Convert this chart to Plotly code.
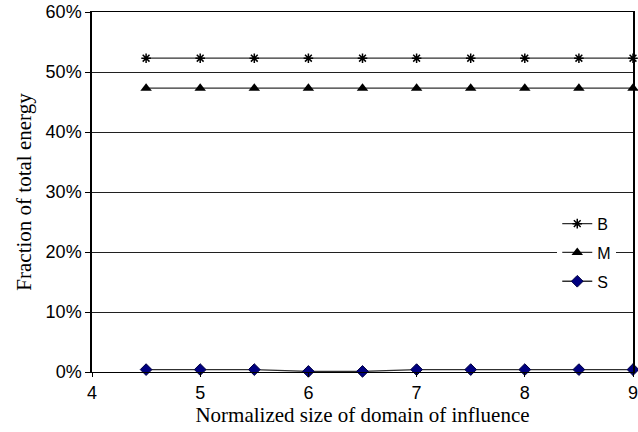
import plotly.graph_objects as go

x_vals = [4.5, 5, 5.5, 6, 6.5, 7, 7.5, 8, 8.5, 9]
b_vals = [0.523, 0.523, 0.523, 0.523, 0.523, 0.523, 0.523, 0.523, 0.523, 0.523]
m_vals = [0.473, 0.473, 0.473, 0.473, 0.473, 0.473, 0.473, 0.473, 0.473, 0.473]
s_vals = [0.004, 0.004, 0.004, 0.001, 0.001, 0.004, 0.004, 0.004, 0.004, 0.004]
y_ticks = [0, 0.1, 0.2, 0.3, 0.4, 0.5, 0.6]
x_ticks = [4, 5, 6, 7, 8, 9]

line_col = "#303030"
fig = go.Figure()
fig.add_trace(go.Scatter(x=x_vals, y=b_vals, name="B", mode="lines+markers", legendgroup="b",
                         line=dict(color=line_col, width=1.3),
                         marker=dict(symbol="asterisk-open", size=8, color="black",
                                     line=dict(color="black", width=1.5)),
                         cliponaxis=False))
fig.add_trace(go.Scatter(x=x_vals, y=m_vals, name="M", mode="lines+markers", legendgroup="m",
                         line=dict(color=line_col, width=1.3),
                         marker=dict(symbol="triangle-up", size=10, color="black"),
                         cliponaxis=False))
fig.add_trace(go.Scatter(x=x_vals, y=s_vals, name="S", mode="lines+markers", legendgroup="s",
                         line=dict(color=line_col, width=1.3),
                         marker=dict(symbol="diamond", size=9, color="#000080",
                                     line=dict(color="#000040", width=1)),
                         cliponaxis=False))

fig.update_layout(
    width=638, height=432,
    margin=dict(l=92, r=5, t=12, b=60),
    paper_bgcolor="white", plot_bgcolor="white",
    showlegend=True,
    legend=dict(x=0.86, y=0.459, xanchor="left", yanchor="top",
                bgcolor="white", borderwidth=0, traceorder="grouped",
                font=dict(family="Liberation Sans, Arial", size=16, color="black"),
                tracegroupgap=5, itemwidth=30),
    font=dict(family="Liberation Sans, Arial", size=18, color="black"),
)
fig.update_xaxes(range=[4, 9], tickvals=x_ticks, ticks="outside", ticklen=4,
                 tickcolor="black", showline=True, linecolor="black", linewidth=1,
                 mirror=True, showgrid=False, zeroline=False, automargin=False,
                 ticklabeloverflow="allow",
                 title=dict(text="Normalized size of domain of influence",
                            font=dict(family="Liberation Serif, Times New Roman", size=21),
                            standoff=4),
                 tickfont=dict(size=18))
fig.update_yaxes(range=[0, 0.6], tickvals=y_ticks, tickformat=".0%", ticks="outside",
                 ticklen=5, tickcolor="black", showline=True, linecolor="black",
                 linewidth=1.5, mirror=True, showgrid=True, gridcolor="#202020",
                 gridwidth=1, zeroline=False, automargin=False,
                 ticklabeloverflow="allow",
                 title=dict(text="Fraction of total energy",
                            font=dict(family="Liberation Serif, Times New Roman", size=21),
                            standoff=8),
                 tickfont=dict(size=18))

fig.write_html("out.html")
